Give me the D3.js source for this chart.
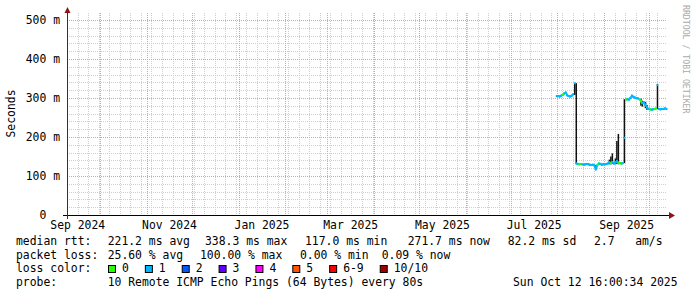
<!DOCTYPE html>
<html>
<head>
<meta charset="utf-8">
<script src="https://cdn.jsdelivr.net/npm/d3@7"></script>
<style>
html, body { margin: 0; padding: 0; background: #fff; }
svg { display: block; }
text { font-family: "DejaVu Sans Mono", monospace; font-size: 11.4px; fill: #000; white-space: pre; }
</style>
</head>
<body>
<svg id="chart" width="697" height="297"></svg>
<script>

// ---- data ----
var firstDay = "2025-07-31";   // one median value per day from here on
var medianMs = [305, 305, 304, 306, 308, 312, 314, 307, 305, 304, 306, 310, 338, 132, 131, 130,
                131, 130, 129, 130, 131, 130, 129, 128, 129, 127, 117, 128, 132, 131, 129, 130,
                130, 131, 132, 135, 133, 136, 132, 135, 138, 134, 133, 132, 133, 198, 296, 297,
                296, 300, 306, 303, 301, 300, 299, 297, 292, 287, 289, 282, 276, 272,
                271, 270, 271, 272, 273, 333, 272, 271, 272, 272, 273, 272];
var lossLevel = [6, 1, 1, 1, 1, 0, 1, 1, 1, 1, 1, 1, 1, 1, 1, 1,
                 0, 0, 1, 1, 1, 1, 1, 1, 1, 1, 1, 1, 0, 1, 1, 1,
                 1, 1, 1, 1, 1, 0, 1, 1, 1, 1, 0, 0, 1, 1, 1, 0,
                 1, 1, 1, 1, 1, 1, 1, 1, 0, 0, 1, 1, 1, 1,
                 1, 0, 1, 1, 0, 1, 1, 1, 1, 1, 1, 1];

// smoke (spread of the pings) where it shows as a dark bar
var smokeDays = ["2025-08-12", "2025-08-13", "2025-08-26", "2025-09-04", "2025-09-05", "2025-09-06",
                 "2025-09-08", "2025-09-09", "2025-09-10", "2025-09-14", "2025-09-25", "2025-09-26",
                 "2025-09-28", "2025-09-29", "2025-10-06"];
var smokeLo = [308, 131, 117, 130, 130, 131, 130, 131, 130, 133, 280, 278, 274, 270, 272];
var smokeHi = [338, 338, 128, 142, 150, 158, 145, 190, 208, 297, 298, 293, 290, 282, 336];

var lossLabels = ["0", "1", "2", "3", "4", "5", "6-9", "10/10"];
var lossColors = ["#26ff00", "#00b8ff", "#0059ff", "#5e00ff", "#ff00ff", "#ff5500", "#ff0000", "#a10000"];

var yTicks = [0, 100, 200, 300, 400, 500];
var yTickLabels = ["0  ", "100 m", "200 m", "300 m", "400 m", "500 m"];
var monthLabels = ["2024-09", "2024-11", "2025-01", "2025-03", "2025-05", "2025-07", "2025-09"];

var rttStats = ["221.2 ms avg", "338.3 ms max", "117.0 ms min", "271.7 ms now", "82.2 ms sd"];
var lossStats = ["25.60 % avg", "100.00 % max", "0.00 % min", "0.09 % now"];

// ---- layout ----
var plotL = 67, plotR = 667, plotT = 13, plotB = 215;
var svg = d3.select("#chart");

var parseDay = d3.timeParse("%Y-%m-%d");
var parseMonth = d3.timeParse("%Y-%m");
var fmtMonth = d3.timeFormat("%b %Y");

var x = d3.scaleTime()
    .domain([new Date(2024, 8, 8, 20, 0), new Date(2025, 9, 12, 20, 0)])
    .range([plotL, plotR]);
var y = d3.scaleLinear().domain([0, 518]).range([plotB, plotT]);

function px(v) { return Math.round(v) + 0.5; }

var grid = svg.append("g");

// minor grid: weeks and 20 ms
grid.selectAll("line.vmin")
    .data(d3.timeMonday.range(x.domain()[0], x.domain()[1]))
    .enter().append("line")
    .attr("x1", function(d) { return px(x(d)); })
    .attr("x2", function(d) { return px(x(d)); })
    .attr("y1", plotT).attr("y2", plotB)
    .attr("stroke", "#cfcfcf").attr("stroke-dasharray", "1,1");

grid.selectAll("line.hmin")
    .data(d3.range(20, 520, 20))
    .enter().append("line")
    .attr("x1", plotL).attr("x2", plotR)
    .attr("y1", function(d) { return px(y(d)); })
    .attr("y2", function(d) { return px(y(d)); })
    .attr("stroke", "#cfcfcf").attr("stroke-dasharray", "1,1");

// major grid: months and 100 ms
grid.selectAll("line.vmaj")
    .data(d3.timeMonth.range(x.domain()[0], x.domain()[1]))
    .enter().append("line")
    .attr("x1", function(d) { return px(x(d)); })
    .attr("x2", function(d) { return px(x(d)); })
    .attr("y1", plotT).attr("y2", plotB)
    .attr("stroke", "#e79b9b").attr("stroke-dasharray", "1,1");

grid.selectAll("line.hmaj")
    .data(yTicks.slice(1))
    .enter().append("line")
    .attr("x1", plotL).attr("x2", plotR)
    .attr("y1", function(d) { return px(y(d)); })
    .attr("y2", function(d) { return px(y(d)); })
    .attr("stroke", "#e79b9b").attr("stroke-dasharray", "1,1");

// ---- smoke ----
svg.append("g").selectAll("line")
    .data(smokeDays)
    .enter().append("line")
    .attr("x1", function(d) { return x(d3.timeHour.offset(parseDay(d), 12)); })
    .attr("x2", function(d) { return x(d3.timeHour.offset(parseDay(d), 12)); })
    .attr("y1", function(d, i) { return y(smokeLo[i]); })
    .attr("y2", function(d, i) { return y(smokeHi[i]); })
    .attr("stroke", "#111").attr("stroke-width", 1.5);

// ---- median, coloured by loss ----
var day0 = parseDay(firstDay);
var points = medianMs.map(function(v, i) {
    return { t: d3.timeHour.offset(d3.timeDay.offset(day0, i), 12), v: v, loss: lossLevel[i] };
});

var med = svg.append("g");
points.forEach(function(p, i) {
    var px0 = x(p.t), py0 = y(p.v);
    med.append("line")
        .attr("x1", px0 - 0.8).attr("x2", px0 + 0.8)
        .attr("y1", py0).attr("y2", py0)
        .attr("stroke", lossColors[p.loss]).attr("stroke-width", 2);
    if (i > 0 && Math.abs(p.v - points[i - 1].v) < 25) {
        med.append("line")
            .attr("x1", x(points[i - 1].t)).attr("y1", y(points[i - 1].v))
            .attr("x2", px0).attr("y2", py0)
            .attr("stroke", lossColors[p.loss]).attr("stroke-width", 2)
            .attr("stroke-linecap", "round");
    }
});

// ---- axes ----
svg.append("line").attr("x1", 63).attr("x2", 671).attr("y1", plotB + 0.5).attr("y2", plotB + 0.5)
    .attr("stroke", "#000");
svg.append("line").attr("x1", plotL + 0.5).attr("x2", plotL + 0.5).attr("y1", 219).attr("y2", 11)
    .attr("stroke", "#333");
svg.append("path").attr("d", "M669,212L675,215.5L669,219Z").attr("fill", "#8f1414");
svg.append("path").attr("d", "M64.5,13L67.5,7L70.5,13Z").attr("fill", "#8f1414");

// y labels
svg.append("g").selectAll("text")
    .data(yTicks)
    .enter().append("text")
    .attr("x", 60).attr("y", function(d) { return y(d) + 4; })
    .attr("text-anchor", "end")
    .text(function(d, i) { return yTickLabels[i]; });

// x labels, centred in their month
svg.append("g").selectAll("text")
    .data(monthLabels)
    .enter().append("text")
    .attr("x", function(d) {
        var m = parseMonth(d);
        return (x(m) + x(d3.timeMonth.offset(m, 1))) / 2;
    })
    .attr("y", 228.5)
    .attr("text-anchor", "middle")
    .text(function(d) { return fmtMonth(parseMonth(d)); });

svg.append("text").attr("transform", "translate(15,113.5) rotate(-90)")
    .attr("text-anchor", "middle").text("Seconds");

svg.append("text").attr("transform", "translate(683,5) rotate(90)")
    .style("font-size", "8.2px").style("fill", "#aaa")
    .text("RRDTOOL / TOBI OETIKER");

// ---- legend ----
var row = [245, 258.7, 272.4, 286.1];
var leg = svg.append("g");

leg.append("text").attr("x", 16).attr("y", row[0]).text("median rtt:");
var rttX = [107.7, 205, 305, 407.7, 507.7];
rttStats.forEach(function(s, i) {
    leg.append("text").attr("x", rttX[i]).attr("y", row[0]).text(s);
});
leg.append("text").attr("x", 594).attr("y", row[0]).text("2.7   am/s");

leg.append("text").attr("x", 16).attr("y", row[1]).text("packet loss:");
var lossX = [107.7, 200, 300, 381.7];
lossStats.forEach(function(s, i) {
    leg.append("text").attr("x", lossX[i]).attr("y", row[1]).text(s);
});

leg.append("text").attr("x", 16).attr("y", row[2]).text("loss color:");
var bx = 108;
lossLabels.forEach(function(l, i) {
    leg.append("rect").attr("x", bx + 0.5).attr("y", 265.5).attr("width", 7).attr("height", 7)
        .attr("fill", lossColors[i]).attr("stroke", "#000");
    var t = leg.append("text").attr("x", bx + 14).attr("y", row[2]).text(l);
    bx += 14 + t.node().getComputedTextLength() + 16;
});

leg.append("text").attr("x", 16).attr("y", row[3]).text("probe:");
leg.append("text").attr("x", 107.7).attr("y", row[3]).text("10 Remote ICMP Echo Pings (64 Bytes) every 80s");
leg.append("text").attr("x", 513).attr("y", row[3]).text("Sun Oct 12 16:00:34 2025");

</script>
</body>
</html>
